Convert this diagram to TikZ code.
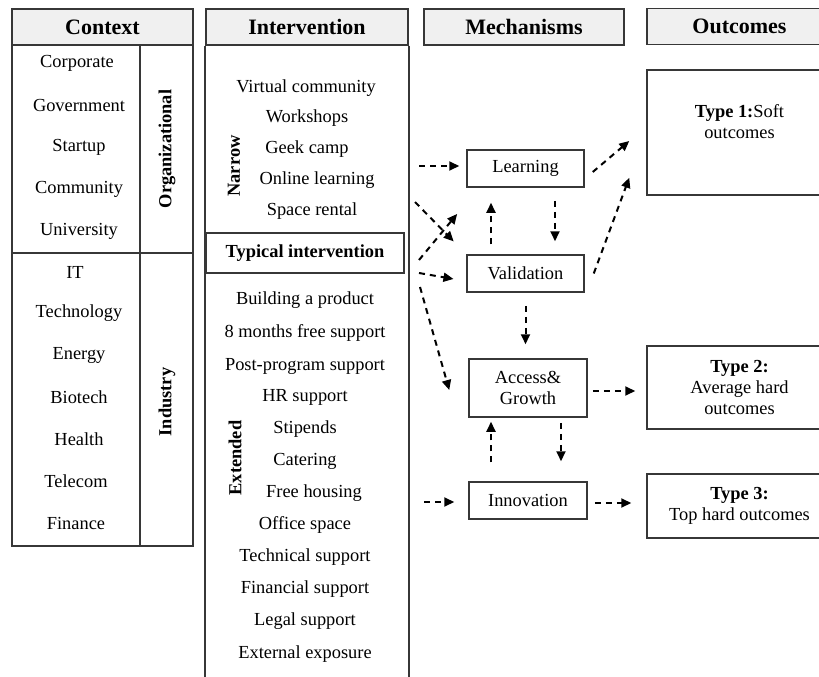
\documentclass[tikz,border=0pt]{standalone}
\usepackage{fontspec}
\setmainfont{Liberation Serif}
\usetikzlibrary{arrows.meta,positioning}
\definecolor{headgray}{RGB}{240,240,240}
\definecolor{linegray}{RGB}{55,55,55}
\tikzset{
	box/.style={draw=linegray,line width=1.5pt,rectangle,align=center,inner sep=0pt},
	head/.style={box,fill=headgray,font=\fontsize{22}{26}\selectfont\bfseries},
	item/.style={inner sep=0pt,align=center,font=\fontsize{18.4}{21}\selectfont},
	side/.style={inner sep=0pt,font=\fontsize{18.4}{21}\selectfont\bfseries,rotate=90},
	flow/.style={dashed,dash pattern=on 6pt off 5pt,line width=2pt,-{Triangle[length=10pt,width=9pt]}}
}
\begin{document}
\begin{tikzpicture}[x=1pt,y=-1pt]
	\useasboundingbox (0,0) rectangle (819,677);
	\clip (0,0) rectangle (819,677);
	% context column
	\node[head,minimum width=181pt,minimum height=36pt] (ctx) at (102.5,27) {Context};
	\node[box,minimum width=128pt,minimum height=208pt] (orgbox) at (76,149) {};
	\node[box,minimum width=53pt,minimum height=208pt] (orgside) at (166.5,149) {};
	\node[box,minimum width=128pt,minimum height=293pt] (indbox) at (76,399.5) {};
	\node[box,minimum width=53pt,minimum height=293pt] (indside) at (166.5,399.5) {};
	\node[side] (orglbl) at (167,149) {Organizational};
	\node[side] (indlbl) at (167,402) {Industry};
	\node[item] (corp) at (77,63) {Corporate};
	\node[item] (gov) at (79,105) {Government};
	\node[item] (start) at (79,147) {Startup};
	\node[item] (comm) at (79,189) {Community};
	\node[item] (univ) at (79,231) {University};
	\node[item] (it) at (75,272) {IT};
	\node[item] (tech) at (79,313) {Technology};
	\node[item] (energy) at (79,355) {Energy};
	\node[item] (bio) at (79,397) {Biotech};
	\node[item] (health) at (79,439) {Health};
	\node[item] (tele) at (76,481) {Telecom};
	\node[item] (fin) at (76,523) {Finance};
	% intervention column
	\coordinate (bot) at (0,680);
	\node[head,minimum width=202pt,minimum height=36pt] (intv) at (307,27) {Intervention};
	\draw[draw=linegray,line width=1.6pt] (intv.south west) -- (intv.south west |- bot);
	\draw[draw=linegray,line width=1.6pt] (intv.south east) -- (intv.south east |- bot);
	\node[side] (narrow) at (234,166) {Narrow};
	\node[item] (virt) at (306,88) {Virtual community};
	\node[item] (work) at (307,118) {Workshops};
	\node[item] (geek) at (307,149) {Geek camp};
	\node[item] (online) at (317,180) {Online learning};
	\node[item] (space) at (312,211) {Space rental};
	\node[box,minimum width=198pt,minimum height=40pt,font=\fontsize{18.4}{21}\selectfont\bfseries] (typ) at (305,253) {Typical intervention};
	\node[side] (ext) at (235,458) {Extended};
	\node[item] (build) at (305,300) {Building a product};
	\node[item] (months) at (305,333) {8 months free support};
	\node[item] (post) at (305,366) {Post-program support};
	\node[item] (hr) at (305,397) {HR support};
	\node[item] (stip) at (305,429) {Stipends};
	\node[item] (cater) at (305,461) {Catering};
	\node[item] (house) at (314,493) {Free housing};
	\node[item] (office) at (305,525) {Office space};
	\node[item] (techsup) at (305,557) {Technical support};
	\node[item] (finsup) at (305,589) {Financial support};
	\node[item] (legal) at (305,621) {Legal support};
	\node[item] (expo) at (305,654) {External exposure};
	% mechanisms
	\node[head,minimum width=200pt,minimum height=36pt] (mech) at (524,27) {Mechanisms};
	\node[box,item,minimum width=117pt,minimum height=37pt] (learn) at (525.5,168.5) {Learning};
	\node[box,item,minimum width=117pt,minimum height=37pt] (valid) at (525.5,273.5) {Validation};
	\node[box,item,minimum width=118pt,minimum height=58pt] (access) at (528,388) {Access\&\\Growth};
	\node[box,item,minimum width=118pt,minimum height=37pt] (innov) at (528,500.5) {Innovation};
	% outcomes
	\node[head,minimum width=185pt,minimum height=36pt] (outc) at (739.5,26.5) {Outcomes};
	\node[box,minimum width=185pt,minimum height=125pt] (out1) at (739.5,132.5) {};
	\node[item] (out1txt) at (739.5,122) {\textbf{Type 1:}Soft\\outcomes};
	\node[box,item,minimum width=185pt,minimum height=83pt] (out2) at (739.5,387.5) {\textbf{Type 2:}\\Average hard\\outcomes};
	\node[box,item,minimum width=185pt,minimum height=64pt] (out3) at (739.5,506) {\textbf{Type 3:}\\Top hard outcomes};
	% dashed arrows
	\coordinate (n1) at (419,166);
	\coordinate (n2) at (415,202);
	\coordinate (n3) at (419,260);
	\coordinate (n4) at (419,273);
	\coordinate (n5) at (420,287);
	\coordinate (n6) at (424,502);
	\draw[flow,shorten >=7pt] (n1) -- (n1 -| learn.west);
	\draw[flow,shorten >=18pt] (n2) -- (valid.north west);
	\draw[flow,shorten >=34pt] (n3) -- ([xshift=12.6pt]learn.south west);
	\draw[flow,shorten >=13pt] (n4) -- ([yshift=-7.7pt]valid.west);
	\draw[flow] (n5) -- ([xshift=-19pt,yshift=-2pt]access.west);
	\draw[flow,shorten >=14pt] (n6) -- (n6 -| innov.west);
	\draw[flow,shorten <=13pt,shorten >=13pt] ([xshift=29.5pt]learn.south) -- ([xshift=29.5pt]valid.north);
	\draw[flow,shorten <=10pt,shorten >=15pt] ([xshift=-34.5pt]valid.north) -- ([xshift=-34.5pt]learn.south);
	\draw[flow] ([xshift=8pt,yshift=-3.5pt]learn.east) -- ([xshift=-17pt,yshift=-8.5pt]out1.west);
	\draw[flow] ([xshift=9pt]valid.east) -- ([xshift=-17pt,yshift=18pt]out1.south west);
	\draw[flow,shorten <=13pt,shorten >=14pt] (valid.south) -- (valid.south |- access.north);
	\draw[flow,shorten <=5pt,shorten >=11pt] ([yshift=-3pt]access.east) -- ([yshift=-3pt]access.east -| out2.west);
	\draw[flow,shorten <=5pt,shorten >=20pt] ([xshift=33pt]access.south) -- ([xshift=33pt]innov.north);
	\draw[flow,shorten <=19pt,shorten >=4pt] ([xshift=-37pt]innov.north) -- ([xshift=-37pt]access.south);
	\draw[flow,shorten <=7pt,shorten >=15pt] ([yshift=-2.5pt]innov.east) -- ([yshift=-2.5pt]innov.east -| out3.west);
\end{tikzpicture}
\end{document}
